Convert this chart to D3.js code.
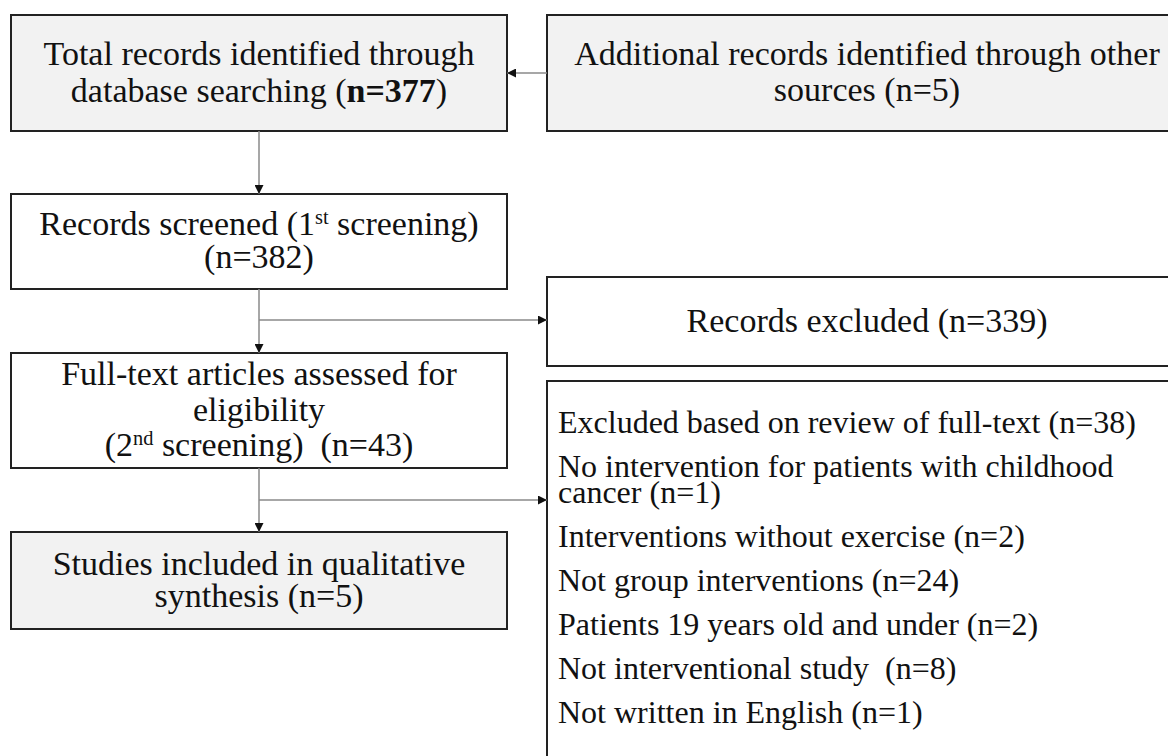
<!DOCTYPE html>
<html>
<head>
<meta charset="utf-8">
<script src="https://cdn.jsdelivr.net/npm/d3@7"></script>
<style>
  html, body { margin: 0; padding: 0; background: #fff; }
  svg { display: block; }
  text { font-family: "Liberation Serif", "Times New Roman", serif; fill: #111; }
</style>
</head>
<body>
<div id="chart"></div>
<script>
// ---- data ----
const stageNames = ["identified", "screened", "assessed", "included"]
const stageCounts = [377, 382, 43, 5]
const otherSourcesCount = 5
const screenExcludedCount = 339
const fullTextExcludedCount = 38
const exclusionReasons = [
  ["No intervention for patients with childhood", "cancer"],
  ["Interventions without exercise"],
  ["Not group interventions"],
  ["Patients 19 years old and under"],
  ["Not interventional study "],
  ["Not written in English"]
]
const exclusionCounts = [1, 2, 24, 2, 8, 1]

// ---- layout ----
const width = 1168, height = 756
const svg = d3.select("#chart").append("svg")
  .attr("width", width).attr("height", height)

// two columns, four rows in the left column
const col = d3.scaleOrdinal().domain(["left", "right"]).range([11, 547])
const colWidth = { left: 496, right: 640 }
const rowTop = d3.scaleOrdinal().domain(stageNames).range([15, 194, 353, 532])
const rowHeight = d3.scaleOrdinal().domain(stageNames).range([116, 95, 115, 97])

const GRAY_FILL = "#f2f2f2"
const FONT = 34
const LIST_FONT = 32

svg.append("defs").append("marker")
  .attr("id", "arrow")
  .attr("viewBox", "0 0 10 10")
  .attr("refX", 10).attr("refY", 5)
  .attr("markerWidth", 9).attr("markerHeight", 9)
  .attr("markerUnits", "userSpaceOnUse")
  .attr("orient", "auto")
  .append("path")
  .attr("d", "M0,0 L10,5 L0,10 z")
  .attr("fill", "#111")

// each box: lines is a list of arrays of [text, style] pieces
const boxes = [
  {
    x: col("left"), y: rowTop("identified"), w: colWidth.left, h: rowHeight("identified"),
    fill: GRAY_FILL, lh: 37,
    lines: [
      [["Total records identified through"]],
      [["database searching ("], [`n=${stageCounts[0]}`, "bold"], [")"]]
    ]
  },
  {
    x: col("right"), y: rowTop("identified"), w: colWidth.right, h: rowHeight("identified"),
    fill: GRAY_FILL, lh: 36,
    lines: [
      [["Additional records identified through other"]],
      [[`sources (n=${otherSourcesCount})`]]
    ]
  },
  {
    x: col("left"), y: rowTop("screened"), w: colWidth.left, h: rowHeight("screened"),
    fill: "#fff", lh: 33,
    lines: [
      [["Records screened (1"], ["st", "sup"], [" screening)"]],
      [[`(n=${stageCounts[1]})`]]
    ]
  },
  {
    x: col("right"), y: 277, w: colWidth.right, h: 89,
    fill: "#fff", lh: 32,
    lines: [
      [[`Records excluded (n=${screenExcludedCount})`]]
    ]
  },
  {
    x: col("left"), y: rowTop("assessed"), w: colWidth.left, h: rowHeight("assessed"),
    fill: "#fff", lh: 35.5,
    lines: [
      [["Full-text articles assessed for"]],
      [["eligibility"]],
      [["(2"], ["nd", "sup"], [` screening)  (n=${stageCounts[2]})`]]
    ]
  },
  {
    x: col("left"), y: rowTop("included"), w: colWidth.left, h: rowHeight("included"),
    fill: GRAY_FILL, lh: 32,
    lines: [
      [["Studies included in qualitative"]],
      [[`synthesis (n=${stageCounts[3]})`]]
    ]
  }
]

const boxG = svg.selectAll("g.box")
  .data(boxes)
  .enter()
  .append("g")
  .attr("class", "box")

boxG.append("rect")
  .attr("x", d => d.x)
  .attr("y", d => d.y)
  .attr("width", d => d.w)
  .attr("height", d => d.h)
  .attr("fill", d => d.fill)
  .attr("stroke", "#222")
  .attr("stroke-width", 2)

boxG.each(function (d) {
  const g = d3.select(this)
  const cx = d.x + d.w / 2
  const cy = d.y + d.h / 2 + 10
  const n = d.lines.length
  d.lines.forEach((pieces, i) => {
    const t = g.append("text")
      .attr("x", cx)
      .attr("y", cy + (i - (n - 1) / 2) * d.lh)
      .attr("text-anchor", "middle")
      .attr("font-size", FONT)
      .style("white-space", "pre")
    pieces.forEach(([str, style]) => {
      const ts = t.append("tspan").text(str)
      if (style === "bold") ts.attr("font-weight", "bold")
      if (style === "sup") ts.attr("font-size", FONT * 0.6).attr("baseline-shift", "super")
    })
  })
})

// exclusion list box (runs off the bottom / right of the page)
const listTop = 381
svg.append("rect")
  .attr("x", col("right"))
  .attr("y", listTop)
  .attr("width", colWidth.right)
  .attr("height", 420)
  .attr("fill", "#fff")
  .attr("stroke", "#222")
  .attr("stroke-width", 2)

const listItems = [[`Excluded based on review of full-text (n=${fullTextExcludedCount})`]]
  .concat(exclusionReasons.map((lines, i) => {
    const out = lines.slice()
    out[out.length - 1] = out[out.length - 1] + ` (n=${exclusionCounts[i]})`
    return out
  }))

let yCursor = listTop + 52
listItems.forEach(lines => {
  lines.forEach((str, j) => {
    svg.append("text")
      .attr("x", col("right") + 11)
      .attr("y", yCursor + j * 26)
      .attr("font-size", LIST_FONT)
      .style("white-space", "pre")
      .text(str)
  })
  yCursor += 26 * (lines.length - 1) + 44
})

// ---- connectors ----
const leftMid = col("left") + colWidth.left / 2
const connectors = [
  // other sources -> identified
  { pts: [[col("right"), 73], [col("left") + colWidth.left, 73]] },
  // identified -> screened
  { pts: [[leftMid, rowTop("identified") + rowHeight("identified")], [leftMid, rowTop("screened")]] },
  // screened -> assessed, with branch to "excluded"
  { pts: [[leftMid, rowTop("screened") + rowHeight("screened")], [leftMid, rowTop("assessed")]] },
  { pts: [[leftMid, 320], [col("right"), 320]] },
  // assessed -> included, with branch to exclusion list
  { pts: [[leftMid, rowTop("assessed") + rowHeight("assessed")], [leftMid, rowTop("included")]] },
  { pts: [[leftMid, 500], [col("right"), 500]] }
]

svg.selectAll("path.link")
  .data(connectors)
  .enter()
  .append("path")
  .attr("class", "link")
  .attr("d", d => d3.line()(d.pts))
  .attr("fill", "none")
  .attr("stroke", "#8a8a8a")
  .attr("stroke-width", 1.5)
  .attr("marker-end", "url(#arrow)")
</script>
</body>
</html>
